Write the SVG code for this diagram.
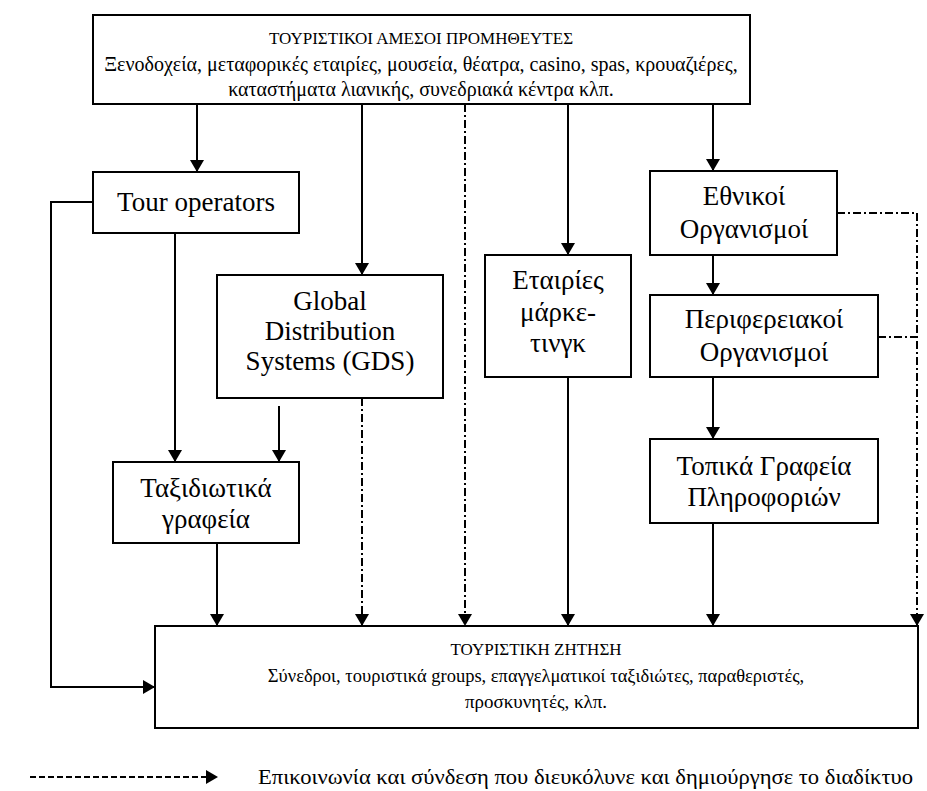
<svg xmlns="http://www.w3.org/2000/svg" width="927" height="791" viewBox="0 0 927 791">
<style>
.box{fill:#fff;stroke:#000;stroke-width:2}
.c{fill:none;stroke:#000;stroke-width:2}
.dd{stroke-dasharray:8 3 2 3}
.ds{stroke-dasharray:6 3}
</style>
<defs>
<marker id="ah" viewBox="0 0 12 14" refX="12" refY="7" markerWidth="12" markerHeight="14" markerUnits="userSpaceOnUse" orient="auto">
<path d="M0,0 L12,7 L0,14 Z" fill="#000"/>
</marker>
</defs>
<rect width="927" height="791" fill="#fff"/>
<g id="connectors">
<path class="c" d="M197,104 V172" marker-end="url(#ah)"/>
<path class="c" d="M362,104 V275" marker-end="url(#ah)"/>
<path class="c dd" d="M465,104 V626" marker-end="url(#ah)"/>
<path class="c" d="M568,104 V255" marker-end="url(#ah)"/>
<path class="c" d="M713,104 V171" marker-end="url(#ah)"/>
<path class="c" d="M93,202 H51 V687 H155" marker-end="url(#ah)"/>
<path class="c" d="M175,233 V462" marker-end="url(#ah)"/>
<path class="c" d="M279,406 V462" marker-end="url(#ah)"/>
<path class="c dd" d="M362,398 V626" marker-end="url(#ah)"/>
<path class="c" d="M217,543 V626" marker-end="url(#ah)"/>
<path class="c" d="M568,377 V626" marker-end="url(#ah)"/>
<path class="c" d="M713,255 V295" marker-end="url(#ah)"/>
<path class="c" d="M713,377 V439" marker-end="url(#ah)"/>
<path class="c" d="M713,523 V626" marker-end="url(#ah)"/>
<path class="c dd" d="M837,213 H917 V626" marker-end="url(#ah)"/>
<path class="c dd" d="M878,337 H917"/>
</g>
<g font-family="Liberation Serif" fill="#000" text-anchor="middle">
<g id="suppliers">
<rect class="box" x="93" y="15" width="657" height="89"/>
<text font-size="17" x="421" y="44">ΤΟΥΡΙΣΤΙΚΟΙ ΑΜΕΣΟΙ ΠΡΟΜΗΘΕΥΤΕΣ</text>
<text font-size="20" x="421" y="71">Ξενοδοχεία, μεταφορικές εταιρίες, μουσεία, θέατρα, casino, spas, κρουαζιέρες,</text>
<text font-size="20" x="421" y="96">καταστήματα λιανικής, συνεδριακά κέντρα κλπ.</text>
</g>
<g id="tour-operators" font-size="27">
<rect class="box" x="93" y="172" width="206" height="61"/>
<text x="196" y="211">Tour operators</text>
</g>
<g id="gds" font-size="27">
<rect class="box" x="217" y="275" width="226" height="123"/>
<text x="330" y="310">Global</text>
<text x="330" y="340">Distribution</text>
<text x="330" y="370">Systems (GDS)</text>
</g>
<g id="marketing" font-size="27">
<rect class="box" x="485" y="255" width="146" height="122"/>
<text x="558" y="289">Εταιρίες</text>
<text x="558" y="321">μάρκε-</text>
<text x="558" y="352">τινγκ</text>
</g>
<g id="national" font-size="27">
<rect class="box" x="650" y="171" width="187" height="84"/>
<text x="744" y="205">Εθνικοί</text>
<text x="744" y="238">Οργανισμοί</text>
</g>
<g id="regional" font-size="27">
<rect class="box" x="650" y="295" width="228" height="82"/>
<text x="764" y="328">Περιφερειακοί</text>
<text x="764" y="361">Οργανισμοί</text>
</g>
<g id="local" font-size="27">
<rect class="box" x="650" y="439" width="228" height="84"/>
<text x="764" y="475">Τοπικά Γραφεία</text>
<text x="764" y="506">Πληροφοριών</text>
</g>
<g id="travel-agencies" font-size="27">
<rect class="box" x="113" y="462" width="186" height="81"/>
<text x="206" y="497">Ταξιδιωτικά</text>
<text x="206" y="528">γραφεία</text>
</g>
<g id="demand">
<rect class="box" x="155" y="626" width="763" height="102"/>
<text font-size="17" x="536" y="655">ΤΟΥΡΙΣΤΙΚΗ ΖΗΤΗΣΗ</text>
<text font-size="18.5" x="536" y="682">Σύνεδροι, τουριστικά groups, επαγγελματικοί ταξιδιώτες, παραθεριστές,</text>
<text font-size="19" x="536" y="708">προσκυνητές, κλπ.</text>
</g>
<g id="legend">
<path class="c ds" d="M30,777 H218" marker-end="url(#ah)"/>
<text font-size="21" x="258" y="784" text-anchor="start" textLength="655" lengthAdjust="spacingAndGlyphs">Επικοινωνία και σύνδεση που διευκόλυνε και δημιούργησε το διαδίκτυο</text>
</g>
</g>
</svg>
